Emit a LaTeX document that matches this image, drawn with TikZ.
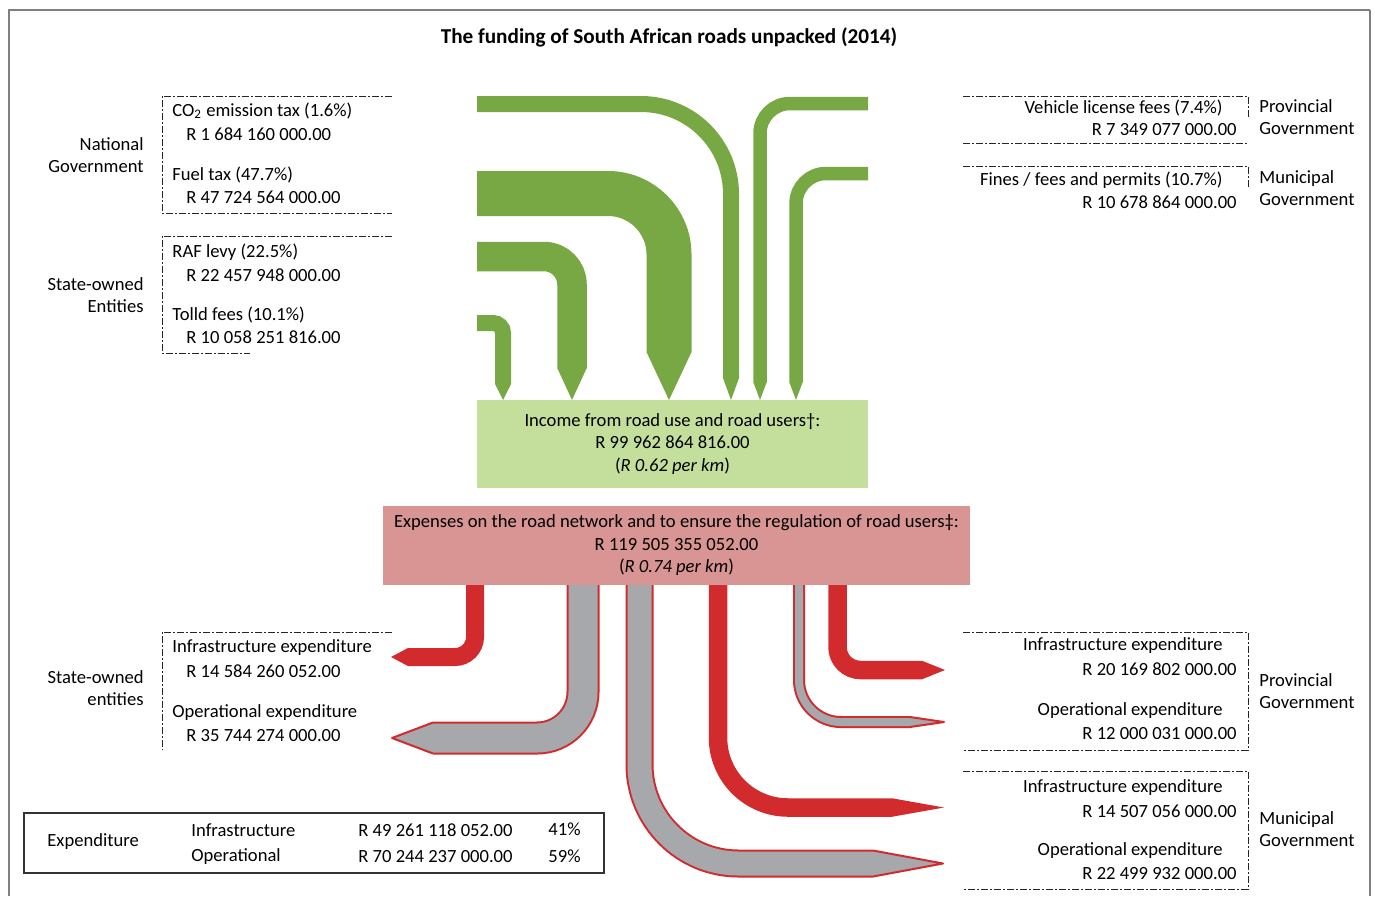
\documentclass[tikz,border=0pt]{standalone}
\usepackage{fontspec}
\setmainfont{Carlito}
\definecolor{flowgreen}{HTML}{77A843}
\definecolor{incomegreen}{HTML}{C4DF9B}
\definecolor{expensered}{HTML}{D99594}
\definecolor{flowred}{HTML}{D12B2E}
\definecolor{flowgray}{HTML}{A7A8AB}
\definecolor{framegray}{HTML}{7F7F7F}

\begin{document}
\begin{tikzpicture}[x=0.5pt,y=-0.5pt,
  every node/.style={font=\fontsize{9.3pt}{11.25pt}\selectfont,inner sep=0pt},
  dashbox/.style={draw=black!85,line width=0.5pt,
    dash pattern=on 3.5pt off 1.2pt on 0.6pt off 1.2pt},
  gflow/.style 2 args={draw=flowgreen,line width=#1,rounded corners=#2},
  rflow/.style 2 args={draw=flowred,line width=#1,rounded corners=#2},
  oflow/.style 2 args={draw=flowred,line width=1pt,double=flowgray,
    double distance=#1,rounded corners=#2},
  otip/.style={fill=flowgray,draw=flowred,line width=1pt,line join=round}]
\useasboundingbox (0,0) rectangle (1375,896);
\draw[framegray,line width=0.75pt] (9,896) -- (9,10) -- (1370,10);
\draw[framegray,line width=1.25pt] (1370,10) -- (1370,896);

\node[font=\fontsize{10.6pt}{12pt}\selectfont\bfseries] (title) at (669,37)
  {The funding of South African roads unpacked (2014)};

\draw[dashbox] (392,96) -- (162,96) -- (162,213) -- (392,213);
\draw[dashbox] (392,236) -- (162,236) -- (162,353) -- (250,353);
\draw[dashbox] (963,96) -- (1248,96) -- (1248,118);
\draw[dashbox] (963,143) -- (1248,143);
\draw[dashbox] (963,166) -- (1248,166) -- (1248,188);
\draw[dashbox] (392,632) -- (162,632) -- (162,750);
\draw[dashbox] (963,632) -- (1248,632) -- (1248,750) -- (963,750);
\draw[dashbox] (963,771) -- (1248,771) -- (1248,889) -- (963,889);

\node[anchor=east,align=right] (natgov) at (144,155) {National\\Government};
\node[anchor=west] (co2)     at (172,111) {CO\textsubscript{2} emission tax (1.6\%)};
\node[anchor=west] (co2val)  at (186,134) {R 1 684 160 000.00};
\node[anchor=west] (fuel)    at (172,175) {Fuel tax (47.7\%)};
\node[anchor=west] (fuelval) at (186,197) {R 47 724 564 000.00};

\node[anchor=east,align=right] (soe) at (144,295) {State-owned\\Entities};
\node[anchor=west] (raf)     at (172,252) {RAF levy (22.5\%)};
\node[anchor=west] (rafval)  at (186,275) {R 22 457 948 000.00};
\node[anchor=west] (toll)    at (172,315) {Tolld fees (10.1\%)};
\node[anchor=west] (tollval) at (186,337) {R 10 058 251 816.00};

\node[anchor=west,align=left] (provgov) at (1259,117) {Provincial\\Government};
\node[anchor=east] (vlf)      at (1223,108) {Vehicle license fees (7.4\%)};
\node[anchor=east] (vlfval)   at (1237,130) {R 7 349 077 000.00};
\node[anchor=west,align=left] (munigov) at (1259,188) {Municipal\\Government};
\node[anchor=east] (fines)    at (1223,180) {Fines / fees and permits (10.7\%)};
\node[anchor=east] (finesval) at (1237,202) {R 10 678 864 000.00};

\draw[gflow={8pt}{45pt}] (477,104) -- (731,104) -- (731,378);
\fill[flowgreen] (723,378) -- (739,378) -- (731,400) -- cycle;
\draw[gflow={22.5pt}{30.5pt}] (477,193.5) -- (669,193.5) -- (669,352);
\fill[flowgreen] (646.5,352) -- (691.5,352) -- (669,400) -- cycle;
\draw[gflow={14.75pt}{14pt}] (477,256.5) -- (572,256.5) -- (572,368);
\fill[flowgreen] (557.25,368) -- (586.75,368) -- (572,400) -- cycle;
\draw[gflow={8pt}{5pt}] (477,323) -- (503,323) -- (503,384);
\fill[flowgreen] (495,384) -- (511,384) -- (503,400) -- cycle;
\draw[gflow={6.75pt}{15pt}] (868,103.5) -- (760,103.5) -- (760,382);
\fill[flowgreen] (753.25,382) -- (766.75,382) -- (760,400) -- cycle;
\draw[gflow={6.75pt}{15pt}] (868,173.5) -- (796,173.5) -- (796,382);
\fill[flowgreen] (789.25,382) -- (802.75,382) -- (796,400) -- cycle;

\node[fill=incomegreen,minimum width=195.5pt,minimum height=44pt,align=center]
  (income) at (672.5,444)
  {Income from road use and road users\textdagger:\\R 99 962 864 816.00\\(\textit{R 0.62 per km})};

\draw[rflow={9pt}{10pt}] (475,585) -- (475,657) -- (408,657);
\fill[flowred] (408,648) -- (391,657) -- (408,666) -- cycle;
\draw[oflow={14.5pt}{23pt}] (583,585) -- (583,738) -- (433,738);
\path[otip] (433,722.5) -- (392,738) -- (433,753.5);
\draw[oflow={12pt}{49.5pt}] (639.5,585) -- (639.5,863.5) -- (873,863.5);
\path[otip] (873,850.5) -- (943,863.5) -- (873,876.5);
\draw[rflow={9.25pt}{35pt}] (718,585) -- (718,807.5) -- (892,807.5);
\fill[flowred] (892,798.25) -- (944,807.5) -- (892,816.75) -- cycle;
\draw[oflow={4pt}{21pt}] (799,585) -- (799,722) -- (910,722);
\path[otip] (910,717) -- (944,722) -- (910,727);
\draw[rflow={9.25pt}{11.5pt}] (837.5,585) -- (837.5,670) -- (922,670);
\fill[flowred] (922,660.75) -- (945,670) -- (922,679.25) -- cycle;

\node[fill=expensered,minimum width=293.5pt,minimum height=39.5pt,align=center]
  (expense) at (676.5,545.5)
  {Expenses on the road network and to ensure the regulation of road users\textdaggerdbl:\\R 119 505 355 052.00\\(\textit{R 0.74 per km})};

\node[anchor=east,align=right] (soeexp) at (144,688) {State-owned\\entities};
\node[anchor=west] (soeinf)    at (172,648) {Infrastructure expenditure};
\node[anchor=west] (soeinfval) at (186,671) {R 14 584 260 052.00};
\node[anchor=west] (soeop)     at (172,713) {Operational expenditure};
\node[anchor=west] (soeopval)  at (186,736) {R 35 744 274 000.00};

\node[anchor=west,align=left] (provexp) at (1259,691) {Provincial\\Government};
\node[anchor=east] (provinf)    at (1223,646) {Infrastructure expenditure};
\node[anchor=east] (provinfval) at (1237,669) {R 20 169 802 000.00};
\node[anchor=east] (provop)     at (1223,711) {Operational expenditure};
\node[anchor=east] (provopval)  at (1237,734) {R 12 000 031 000.00};

\node[anchor=west,align=left] (muniexp) at (1259,829) {Municipal\\Government};
\node[anchor=east] (muniinf)    at (1223,788) {Infrastructure expenditure};
\node[anchor=east] (muniinfval) at (1237,811) {R 14 507 056 000.00};
\node[anchor=east] (muniop)     at (1223,851) {Operational expenditure};
\node[anchor=east] (muniopval)  at (1237,874) {R 22 499 932 000.00};

\draw[black!80,line width=0.75pt] (24,813) rectangle (604,873);
\node[anchor=west] (exptot)  at (47,842)  {Expenditure};
\node[anchor=west] (infra)   at (191,830) {Infrastructure};
\node[anchor=west] (oper)    at (191,857) {Operational};
\node[anchor=west] (infraval) at (358,830) {R 49 261 118 052.00};
\node[anchor=west] (operval)  at (358,857) {R 70 244 237 000.00};
\node[anchor=west] (infrapc) at (548,829) {41\%};
\node[anchor=west] (operpc)  at (548,856) {59\%};
\end{tikzpicture}
\end{document}
